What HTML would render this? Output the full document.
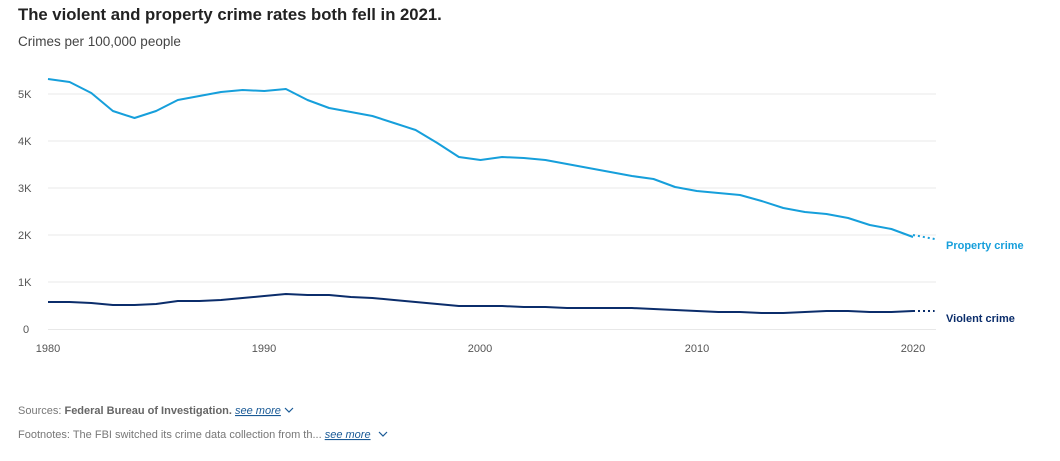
<!DOCTYPE html>
<html><head><meta charset="utf-8"><style>
body{margin:0;background:#fff;width:1060px;height:456px;overflow:hidden;font-family:"Liberation Sans",sans-serif}
</style></head><body>
<svg width="1060" height="456" xmlns="http://www.w3.org/2000/svg" font-family="Liberation Sans, sans-serif">
<text x="18" y="20" font-size="16.7" font-weight="bold" fill="#222">The violent and property crime rates both fell in 2021.</text>
<text x="18" y="46" font-size="13.5" fill="#444">Crimes per 100,000 people</text>
<g stroke="#e8e8e8" stroke-width="1">
<line x1="48" x2="936" y1="94" y2="94"/><line x1="48" x2="936" y1="141" y2="141"/><line x1="48" x2="936" y1="188" y2="188"/><line x1="48" x2="936" y1="235" y2="235"/><line x1="48" x2="936" y1="282" y2="282"/><line x1="48" x2="936" y1="329.5" y2="329.5"/>
</g>
<g font-size="11" fill="#555">
<text x="18" y="98">5K</text><text x="18" y="145">4K</text><text x="18" y="192">3K</text><text x="18" y="239">2K</text><text x="18" y="286">1K</text><text x="23" y="333">0</text>
<text x="48" y="352" text-anchor="middle">1980</text><text x="264" y="352" text-anchor="middle">1990</text><text x="480" y="352" text-anchor="middle">2000</text><text x="697" y="352" text-anchor="middle">2010</text><text x="913" y="352" text-anchor="middle">2020</text>
</g>
<polyline fill="none" stroke="#169fdb" stroke-width="2" stroke-linejoin="round" points="48,79 69.6,82 91.3,93 112.9,111 134.5,118 156.1,111 177.8,100 199.4,96 221,92 242.6,90 264.3,91 285.9,89 307.5,100 329.1,108 350.8,112 372.4,116 394,123 415.6,130 437.3,143 458.9,157 480.5,160 502.1,157 523.8,158 545.4,160 567,164 588.6,168 610.3,172 631.9,176 653.5,179 675.1,187 696.8,191 718.4,193 740,195 761.6,201 783.3,208 804.9,212 826.5,214 848.1,218 869.8,225 891.4,229 913,237"/>
<polyline fill="none" stroke="#169fdb" stroke-width="2" stroke-dasharray="2,3" points="913,235 934.6,239"/>
<polyline fill="none" stroke="#0b2d6b" stroke-width="2" stroke-linejoin="round" points="48,302 69.6,302 91.3,303 112.9,305 134.5,305 156.1,304 177.8,301 199.4,301 221,300 242.6,298 264.3,296 285.9,294 307.5,295 329.1,295 350.8,297 372.4,298 394,300 415.6,302 437.3,304 458.9,306 480.5,306 502.1,306 523.8,307 545.4,307 567,308 588.6,308 610.3,308 631.9,308 653.5,309 675.1,310 696.8,311 718.4,312 740,312 761.6,313 783.3,313 804.9,312 826.5,311 848.1,311 869.8,312 891.4,312 913,311"/>
<polyline fill="none" stroke="#0b2d6b" stroke-width="2" stroke-dasharray="2,3" points="913,311 934.6,311"/>
<text x="946" y="249" font-size="11" font-weight="bold" fill="#169fdb">Property crime</text>
<text x="946" y="322" font-size="11" font-weight="bold" fill="#0b2d6b">Violent crime</text>
<g font-size="11" fill="#777">
<text x="18" y="414">Sources: <tspan font-weight="bold" fill="#666">Federal Bureau of Investigation.</tspan> <tspan fill="#1a5a96" font-style="italic" text-decoration="underline">see more</tspan></text>
<text x="18" y="438">Footnotes: The FBI switched its crime data collection from th... <tspan fill="#1a5a96" font-style="italic" text-decoration="underline">see more</tspan></text>
</g>
<polyline fill="none" stroke="#1a5a96" stroke-width="1.2" points="285,408 289,412 293,408"/>
<polyline fill="none" stroke="#1a5a96" stroke-width="1.2" points="379,432 383,436 387,432"/>
</svg>
</body></html>
